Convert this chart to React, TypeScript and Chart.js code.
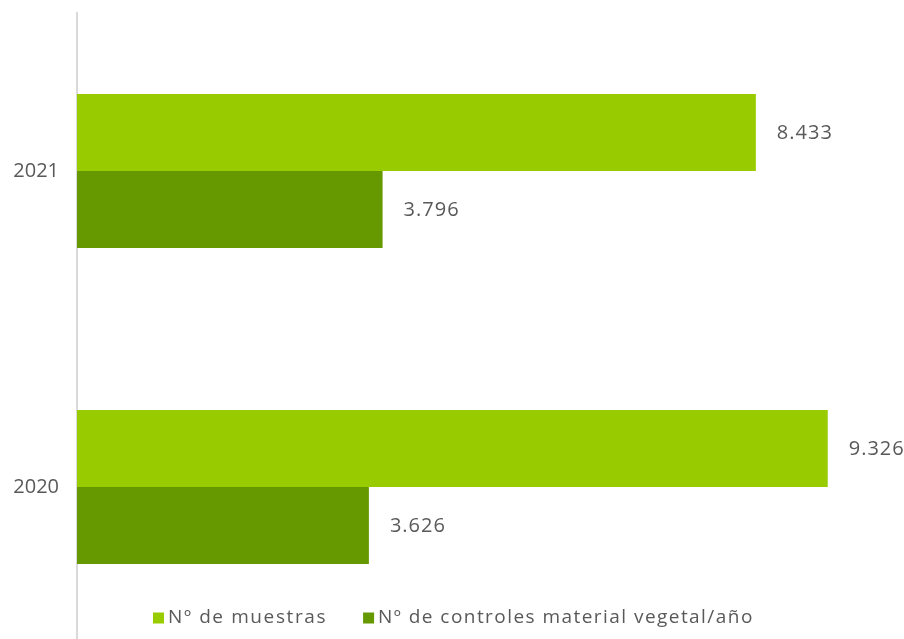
import React, { useEffect, useRef } from "react";
import { Chart, registerables } from "chart.js";

Chart.register(...registerables);

const categories = ["2021", "2020"];
const seriesNames = ["Nº de muestras", "Nº de controles material vegetal/año"];
const muestras = [8433, 9326];
const controles = [3796, 3626];
const seriesColors = ["#99CC00", "#669900"];

const FONT = "'Open Sans', sans-serif";
const TEXT_COLOR = "#595959";

function fmt(v: number): string {
  return String(v).replace(/\B(?=(\d{3})+(?!\d))/g, ".");
}

const labelPlugin = {
  id: "valueLabels",
  afterDatasetsDraw(chart: any) {
    const ctx = chart.ctx;
    ctx.save();
    ctx.font = `20px ${FONT}`;
    (ctx as any).letterSpacing = "1px";
    ctx.fillStyle = TEXT_COLOR;
    ctx.textAlign = "left";
    ctx.textBaseline = "middle";
    chart.data.datasets.forEach((ds: any, di: number) => {
      const meta = chart.getDatasetMeta(di);
      meta.data.forEach((bar: any, i: number) => {
        ctx.fillText(fmt(ds.data[i]), bar.x + 21, bar.y + 1);
      });
    });
    ctx.restore();
  },
};

const legendPlugin = {
  id: "customLegend",
  afterDraw(chart: any) {
    const ctx = chart.ctx;
    ctx.save();
    ctx.font = `19px ${FONT}`;
    const spacings = [1.6, 1.45];
    ctx.textBaseline = "middle";
    ctx.textAlign = "left";
    const box = 11;
    const gapBoxText = 4;
    const gapItems = 36;
    const items = chart.data.datasets.map((ds: any, i: number) => {
      (ctx as any).letterSpacing = `${spacings[i] ?? 1.5}px`;
      return {
        label: ds.label,
        color: ds.backgroundColor,
        sp: spacings[i] ?? 1.5,
        w: ctx.measureText(ds.label).width,
      };
    });
    let x = 153;
    const y = 618;
    items.forEach((it: any) => {
      ctx.fillStyle = it.color;
      ctx.fillRect(x, y - box / 2, box, box);
      x += box + gapBoxText;
      ctx.fillStyle = TEXT_COLOR;
      (ctx as any).letterSpacing = `${it.sp}px`;
      ctx.fillText(it.label, x, y);
      x += it.w + gapItems;
    });
    ctx.restore();
  },
};

export default function App() {
  const ref = useRef<HTMLCanvasElement>(null);
  useEffect(() => {
    if (!ref.current) return;
    const chart = new Chart(ref.current, {
      type: "bar",
      data: {
        labels: categories,
        datasets: [
          { label: seriesNames[0], data: muestras, backgroundColor: seriesColors[0] },
          { label: seriesNames[1], data: controles, backgroundColor: seriesColors[1] },
        ],
      },
      options: {
        indexAxis: "y",
        responsive: false,
        animation: false,
        devicePixelRatio: 1,
        layout: { padding: { top: 13, bottom: 15, left: 0, right: 22 } },
        datasets: { bar: { categoryPercentage: 0.487, barPercentage: 1 } },
        scales: {
          x: { display: false, min: 0, max: 10000 },
          y: {
            grid: { display: false, drawTicks: false },
            border: { display: true, color: "#d9d9d9", width: 2 },
            ticks: { color: TEXT_COLOR, font: { family: FONT, size: 20 }, padding: 18 },
            afterFit(scale: any) {
              scale.width = 77;
              scale.paddingTop = 0;
              scale.paddingBottom = 0;
            },
          },
        },
        plugins: { legend: { display: false }, tooltip: { enabled: false } },
      },
      plugins: [labelPlugin, legendPlugin],
    });
    return () => chart.destroy();
  }, []);
  return (
    <div style={{ position: "absolute", left: 0, top: 0, width: 904, height: 639, overflow: "hidden" }}>
      <canvas ref={ref} width={904} height={660} style={{ display: "block" }} />
    </div>
  );
}
